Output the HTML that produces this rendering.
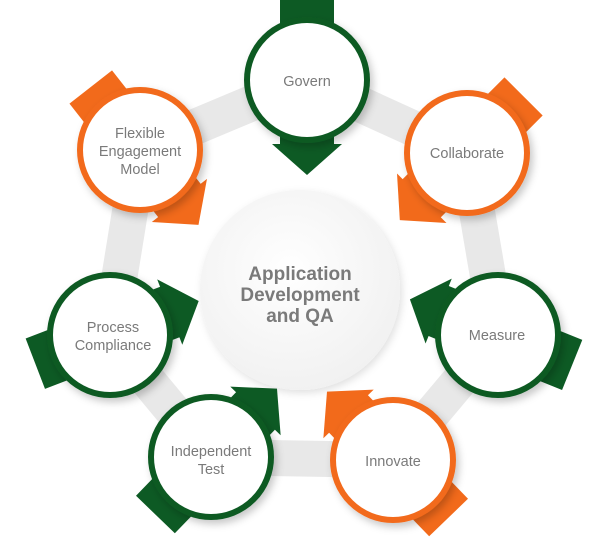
<!DOCTYPE html>
<html><head><meta charset="utf-8"><style>
html,body{margin:0;padding:0;background:#fff;}
svg{display:block;}
text{font-family:"Liberation Sans",sans-serif;fill:#7a7a7a;text-anchor:middle;}
</style></head><body>
<svg width="610" height="548" viewBox="0 0 610 548" xmlns="http://www.w3.org/2000/svg">
<defs>
<filter id="sh" x="-30%" y="-30%" width="160%" height="160%"><feDropShadow dx="3" dy="4" stdDeviation="4" flood-color="#000" flood-opacity="0.22"/></filter>
<filter id="sh2" x="-30%" y="-30%" width="160%" height="160%"><feDropShadow dx="2" dy="3" stdDeviation="4" flood-color="#000" flood-opacity="0.12"/></filter>
<radialGradient id="cg" cx="45%" cy="40%" r="65%"><stop offset="0" stop-color="#ffffff"/><stop offset="1" stop-color="#f0f0f0"/></radialGradient>
<g id="arr"><rect x="-80" y="-27" width="148" height="54"/><polygon points="64,-35 95,0 64,35"/></g>
</defs>
<polygon points="307,80 467,153 498,335 393,460 211,457 110,335 140,150" fill="none" stroke="#e8e8e8" stroke-width="36" stroke-linejoin="round"/>
<circle cx="300" cy="290" r="100" fill="url(#cg)" filter="url(#sh2)"/>
<text x="300" y="280" font-size="19" font-weight="bold">Application</text>
<text x="300" y="301" font-size="19" font-weight="bold">Development</text>
<text x="300" y="322" font-size="19" font-weight="bold">and QA</text>

<g fill="#0d5a24"><use href="#arr" transform="translate(307,80) rotate(90)"/></g>
<g fill="#f26a1b"><use href="#arr" transform="translate(467,153) rotate(135)"/></g>
<g fill="#0d5a24"><use href="#arr" transform="translate(498,335) rotate(202)"/></g>
<g fill="#f26a1b"><use href="#arr" transform="translate(393,460) rotate(226)"/></g>
<g fill="#0d5a24"><use href="#arr" transform="translate(211,457) rotate(-46)"/></g>
<g fill="#0d5a24"><use href="#arr" transform="translate(110,335) rotate(-21)"/></g>
<g fill="#f26a1b"><use href="#arr" transform="translate(140,150) rotate(52)"/></g>

<g filter="url(#sh)" fill="#fff" stroke-width="6">
<circle cx="307" cy="80" r="60" stroke="#0d5a24"/>
<circle cx="467" cy="153" r="60" stroke="#f26a1b"/>
<circle cx="498" cy="335" r="60" stroke="#0d5a24"/>
<circle cx="393" cy="460" r="60" stroke="#f26a1b"/>
<circle cx="211" cy="457" r="60" stroke="#0d5a24"/>
<circle cx="110" cy="335" r="60" stroke="#0d5a24"/>
<circle cx="140" cy="150" r="60" stroke="#f26a1b"/>
</g>
<g font-size="14.5">
<text x="307" y="86">Govern</text>
<text x="467" y="158">Collaborate</text>
<text x="497" y="340">Measure</text>
<text x="393" y="466">Innovate</text>
<text x="211" y="456">Independent</text>
<text x="211" y="474">Test</text>
<text x="113" y="332">Process</text>
<text x="113" y="350">Compliance</text>
<text x="140" y="138">Flexible</text>
<text x="140" y="156">Engagement</text>
<text x="140" y="174">Model</text>
</g>
</svg>
</body></html>
